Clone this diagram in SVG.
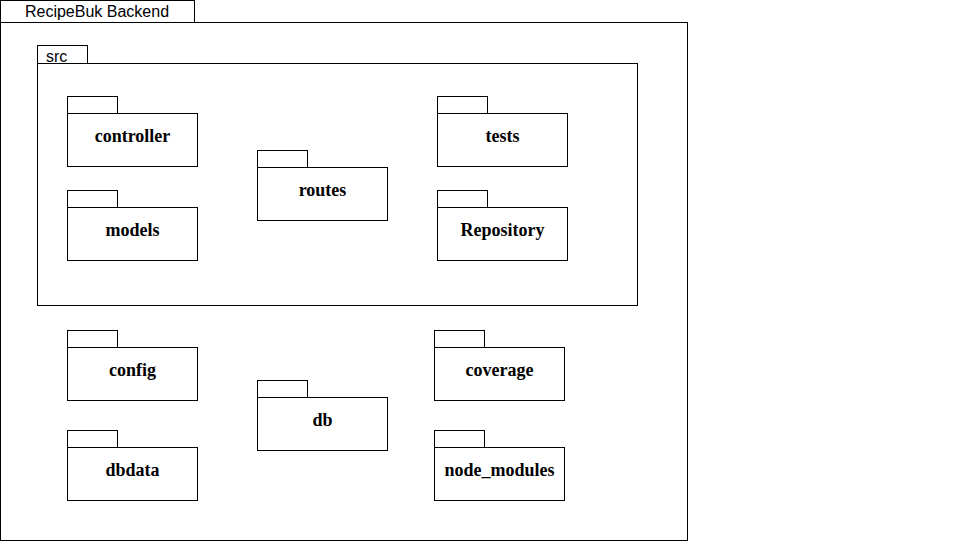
<svg xmlns="http://www.w3.org/2000/svg" width="958" height="541" viewBox="0 0 958 541">
<style>
.s{fill:#fff;stroke:#000;stroke-width:1}
.t{font-family:"Liberation Serif",serif;font-weight:bold;font-size:18px;text-anchor:middle}
.f{font-family:"Liberation Sans",sans-serif;font-size:16px}
</style>
<rect width="958" height="541" fill="#fff"/>
<g id="backend">
<rect class="s" x="0.5" y="0.5" width="194" height="22"/>
<rect class="s" x="0.5" y="22.5" width="687" height="518"/>
<text class="f" x="97" y="17" text-anchor="middle">RecipeBuk Backend</text>
</g>
<g id="src">
<rect class="s" x="37.5" y="45.5" width="50" height="18"/>
<rect class="s" x="37.5" y="63.5" width="600" height="242"/>
<text class="f" x="46" y="62">src</text>
</g>
<g id="controller">
<rect class="s" x="67.5" y="96.5" width="50" height="17"/>
<rect class="s" x="67.5" y="113.5" width="130" height="53"/>
<text class="t" x="132.5" y="142">controller</text>
</g>
<g id="models">
<rect class="s" x="67.5" y="190.5" width="50" height="17"/>
<rect class="s" x="67.5" y="207.5" width="130" height="53"/>
<text class="t" x="132.5" y="236">models</text>
</g>
<g id="routes">
<rect class="s" x="257.5" y="150.5" width="50" height="17"/>
<rect class="s" x="257.5" y="167.5" width="130" height="53"/>
<text class="t" x="322.5" y="196">routes</text>
</g>
<g id="tests">
<rect class="s" x="437.5" y="96.5" width="50" height="17"/>
<rect class="s" x="437.5" y="113.5" width="130" height="53"/>
<text class="t" x="502.5" y="142">tests</text>
</g>
<g id="repository">
<rect class="s" x="437.5" y="190.5" width="50" height="17"/>
<rect class="s" x="437.5" y="207.5" width="130" height="53"/>
<text class="t" x="502.5" y="236">Repository</text>
</g>
<g id="config">
<rect class="s" x="67.5" y="330.5" width="50" height="17"/>
<rect class="s" x="67.5" y="347.5" width="130" height="53"/>
<text class="t" x="132.5" y="376">config</text>
</g>
<g id="dbdata">
<rect class="s" x="67.5" y="430.5" width="50" height="17"/>
<rect class="s" x="67.5" y="447.5" width="130" height="53"/>
<text class="t" x="132.5" y="476">dbdata</text>
</g>
<g id="db">
<rect class="s" x="257.5" y="380.5" width="50" height="17"/>
<rect class="s" x="257.5" y="397.5" width="130" height="53"/>
<text class="t" x="322.5" y="426">db</text>
</g>
<g id="coverage">
<rect class="s" x="434.5" y="330.5" width="50" height="17"/>
<rect class="s" x="434.5" y="347.5" width="130" height="53"/>
<text class="t" x="499.5" y="376">coverage</text>
</g>
<g id="node_modules">
<rect class="s" x="434.5" y="430.5" width="50" height="17"/>
<rect class="s" x="434.5" y="447.5" width="130" height="53"/>
<text class="t" x="499.5" y="476">node_modules</text>
</g>
<g id="connectors"></g>
</svg>
